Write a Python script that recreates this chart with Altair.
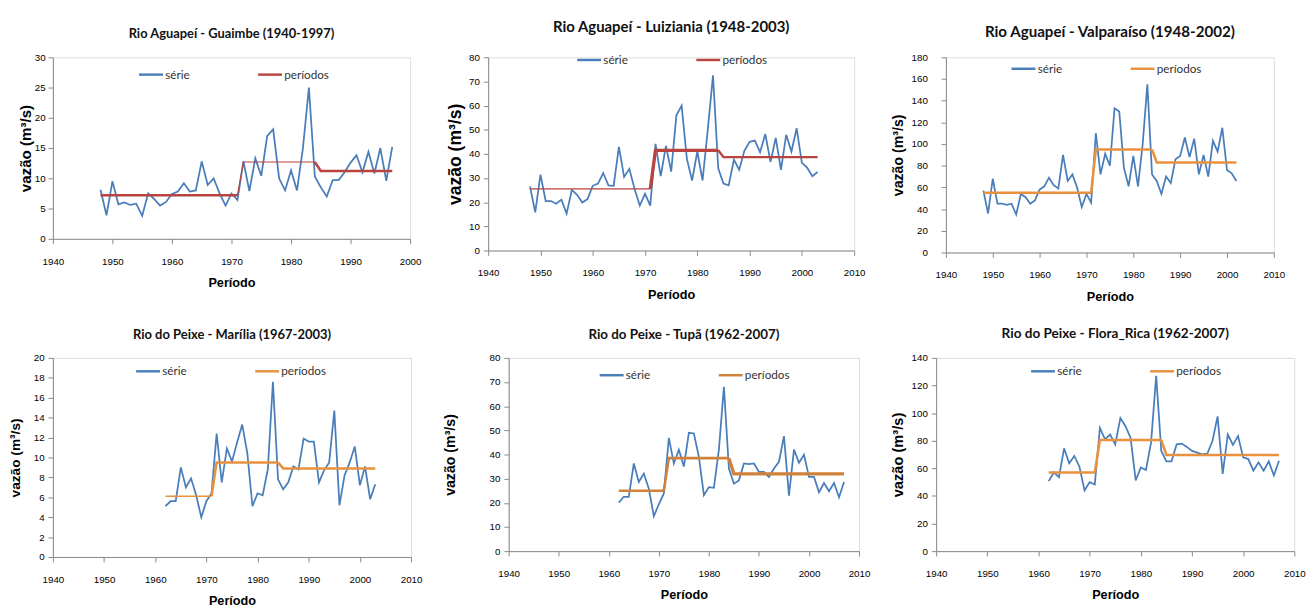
import altair as alt
import pandas as pd

BLUE = "#4a7ebb"
RED = "#b8433f"
ORANGE = "#e8913e"
ORANGE_DARK = "#d0813a"
FONT = "Lato"

# ---------------- data ----------------
titles = [
    "Rio Aguapeí - Guaimbe (1940-1997)",
    "Rio Aguapeí - Luiziania (1948-2003)",
    "Rio Aguapeí - Valparaíso (1948-2002)",
    "Rio do Peixe - Marília (1967-2003)",
    "Rio do Peixe - Tupã (1962-2007)",
    "Rio do Peixe - Flora_Rica (1962-2007)",
]

start_years = [1948, 1948, 1948, 1962, 1962, 1962]

guaimbe = [8.1, 3.9, 9.5, 5.7, 6.0, 5.6, 5.8, 3.8, 7.5, 6.6,
           5.5, 6.1, 7.4, 7.8, 9.2, 7.8, 8.0, 12.8, 8.9, 10.0,
           7.5, 5.5, 7.5, 6.4, 12.8, 7.9, 13.3, 10.4, 17.0, 18.1,
           10.0, 8.0, 11.3, 8.0, 15.0, 25.0, 10.3, 8.5, 7.0, 9.7,
           9.7, 11.0, 12.6, 13.8, 11.0, 14.4, 10.8, 15.0, 9.6, 15.2]

luiziania = [26.5, 15.8, 31.4, 20.5, 20.5, 19.4, 21.1, 15.3, 25.1, 23.1,
             19.9, 21.3, 26.8, 27.7, 32.1, 27.0, 26.8, 42.9, 30.5, 33.8,
             25.5, 18.6, 23.5, 18.6, 44.2, 30.8, 43.3, 32.7, 56.0, 60.0,
             38.0, 29.0, 41.0, 29.0, 50.0, 72.5, 34.0, 27.7, 27.0, 37.6,
             33.4, 41.3, 45.0, 45.5, 40.7, 48.2, 36.7, 46.6, 33.4, 47.9,
             41.0, 50.6, 36.3, 34.3, 30.8, 32.5]

valparaiso = [57, 36, 68, 45, 45, 44, 45, 35, 54, 51,
              45, 48, 58, 61, 69, 62, 59, 90, 66, 72,
              60, 42, 54, 46, 110, 72, 91, 80, 133, 130,
              78, 61, 89, 61, 100, 155, 72, 66, 54, 70,
              64, 86, 89, 106, 88, 105, 72, 90, 70, 103,
              93, 115, 76, 73, 66]

marilia = [5.1, 5.6, 5.6, 9.0, 7.0, 7.9, 6.2, 4.0, 5.6, 6.4,
           12.4, 7.5, 10.9, 9.6, 11.5, 13.3, 10.4, 5.1, 6.4, 6.2,
           8.8, 17.6, 7.8, 6.8, 7.5, 9.1, 8.8, 11.9, 11.6, 11.6,
           7.5, 8.7, 9.5, 14.7, 5.2, 8.2, 9.5, 11.1, 7.2, 9.1,
           5.8, 7.3]

tupa = [20.1, 22.5, 22.5, 36.3, 28.6, 32.1, 25.8, 14.5, 19.4, 23.9,
        46.9, 36.3, 42.0, 35.0, 49.0, 48.7, 39.0, 23.2, 26.5, 26.2,
        42.0, 68.0, 34.2, 27.9, 29.3, 36.3, 36.0, 36.3, 32.8, 32.8,
        30.7, 34.2, 37.0, 47.6, 23.0, 42.0, 36.6, 39.9, 30.7, 30.7,
        24.4, 28.2, 24.8, 28.2, 22.3, 28.6]

flora_rica = [50.7, 57, 53.6, 74.5, 63.6, 69, 61.2, 44, 50, 48.3,
              89.3, 81, 84.5, 77.4, 96.4, 90.5, 82, 51.2, 60.7, 58.8,
              78.6, 127, 72.6, 65, 65, 77.4, 77.9, 75.5, 72.6, 71.4,
              70.2, 70.7, 79.8, 97.6, 56, 84.5, 77, 83.3, 67.9, 66.7,
              58.3, 64.3, 58.3, 65, 54.8, 65.5]

series_values = [guaimbe, luiziania, valparaiso, marilia, tupa, flora_rica]

# period boundaries (end of 1st period, start of 2nd, end of 2nd, start of 3rd)
period_breaks = [1971, 1972, 1984, 1985]
period_levels = [
    [7.2, 12.7, 11.2],
    [25.5, 41.5, 38.7],
    [55, 95, 83],
    [6.1, 9.5, 8.9],
    [25, 38.5, 32],
    [57, 80.5, 69.7],
]

x_max = [2000, 2010, 2010, 2010, 2010, 2010]
y_max = [30, 80, 180, 20, 80, 140]
y_step = [5, 10, 20, 2, 10, 20]
period_colors = [RED, RED, ORANGE, ORANGE, ORANGE_DARK, ORANGE]

# styles / layout (per panel)
period_stroke = [
    [2.6, 1.2, 2.6],
    [1.4, 3.4, 2.4],
    [2.6, 2.6, 2.6],
    [1.6, 2.6, 2.6],
    [2.6, 2.6, 3.4],
    [2.6, 2.6, 2.6],
]
widths = [366, 375, 336, 367, 359, 367]
heights = [186, 198, 200, 204, 198, 198]
title_sizes = [13.2, 15.3, 15.5, 13.3, 13.7, 13.9]
ytitle_sizes = [15.5, 18, 14.5, 14, 14.5, 15]
y_label_pad = [3, 4, 14, 4, 4, 4]
y_min_extent = [18, 23, 40, 30, 51.5, 30]
legend_xy = [(87, 4), (90, -11), (66, -2), (84, 0), (92, 4), (96, 0)]


def make_panel(i):
    years = list(range(start_years[i], start_years[i] + len(series_values[i])))
    df_s = pd.DataFrame({"ano": years, "vazao": series_values[i], "serie": "série"})
    lv = period_levels[i]
    sw = period_stroke[i]
    b = period_breaks
    p_years = [years[0], b[0],
               b[0], b[1], b[2],
               b[2], b[3], years[-1]]
    p_vals = [lv[0], lv[0],
              lv[0], lv[1], lv[1],
              lv[1], lv[2], lv[2]]
    p_seg = [0, 0, 1, 1, 1, 2, 2, 2]
    df_p = pd.DataFrame({"ano": p_years, "vazao": p_vals, "serie": "períodos",
                         "seg": p_seg, "w": [sw[k] for k in p_seg]})

    cscale = alt.Scale(domain=["série", "períodos"], range=[BLUE, period_colors[i]])
    legend = alt.Legend(
        title=None, orient="none", legendX=legend_xy[i][0], legendY=legend_xy[i][1],
        direction="horizontal", symbolType="stroke", symbolSize=600,
        symbolStrokeWidth=2.5, labelFontSize=12, labelFont=FONT, labelColor="#333",
        columnPadding=64, labelOffset=1,
    )
    x = alt.X("ano:Q", scale=alt.Scale(domain=[1940, x_max[i]], nice=False, zero=False),
              axis=alt.Axis(values=list(range(1940, x_max[i] + 1, 10)), format="d",
                            title="Período", grid=False, labelPadding=13,
                            labelFlush=False, titlePadding=11, titleFontSize=13))
    y = alt.Y("vazao:Q", scale=alt.Scale(domain=[0, y_max[i]], nice=False),
              axis=alt.Axis(values=list(range(0, y_max[i] + 1, y_step[i])),
                            title="vazão (m³/s)", grid=False,
                            labelPadding=y_label_pad[i], labelFlush=False,
                            titlePadding=1, titleFontSize=ytitle_sizes[i],
                            minExtent=y_min_extent[i]))
    s = alt.Chart(df_s).mark_line(strokeWidth=1.8).encode(
        x=x, y=y, color=alt.Color("serie:N", scale=cscale, legend=legend))
    p = alt.Chart(df_p).mark_line().encode(
        x=x, y=y, color=alt.Color("serie:N", scale=cscale, legend=legend),
        detail="seg:N", strokeWidth=alt.StrokeWidth("w:Q", scale=None),
        order="ano:Q")
    return alt.layer(s, p).properties(
        width=widths[i], height=heights[i],
        title=alt.TitleParams(titles[i], fontSize=title_sizes[i], font=FONT,
                              fontWeight="bold", color="#111", anchor="middle",
                              offset=12))


row1 = alt.hconcat(make_panel(0), make_panel(1), make_panel(2), spacing=25).resolve_scale(
    color="independent").resolve_legend(color="independent")
row2 = alt.hconcat(make_panel(3), make_panel(4), make_panel(5), spacing=20).resolve_scale(
    color="independent").resolve_legend(color="independent")

chart = alt.vconcat(row1, row2, spacing=23).resolve_scale(
    color="independent").resolve_legend(color="independent").properties(
    padding={"top": 4, "left": 0, "right": 2, "bottom": 2}).configure_view(
    stroke=None).configure_axis(
    labelFont=FONT, labelFontSize=12, labelColor="#222",
    titleFont=FONT, titleFontWeight="bold", titleColor="#222",
    domainColor="#8a8a8a", tickColor="#8a8a8a", tickSize=4,
).configure(background="white")

chart.save("out.html", embed_options={"renderer": "svg", "actions": False})
